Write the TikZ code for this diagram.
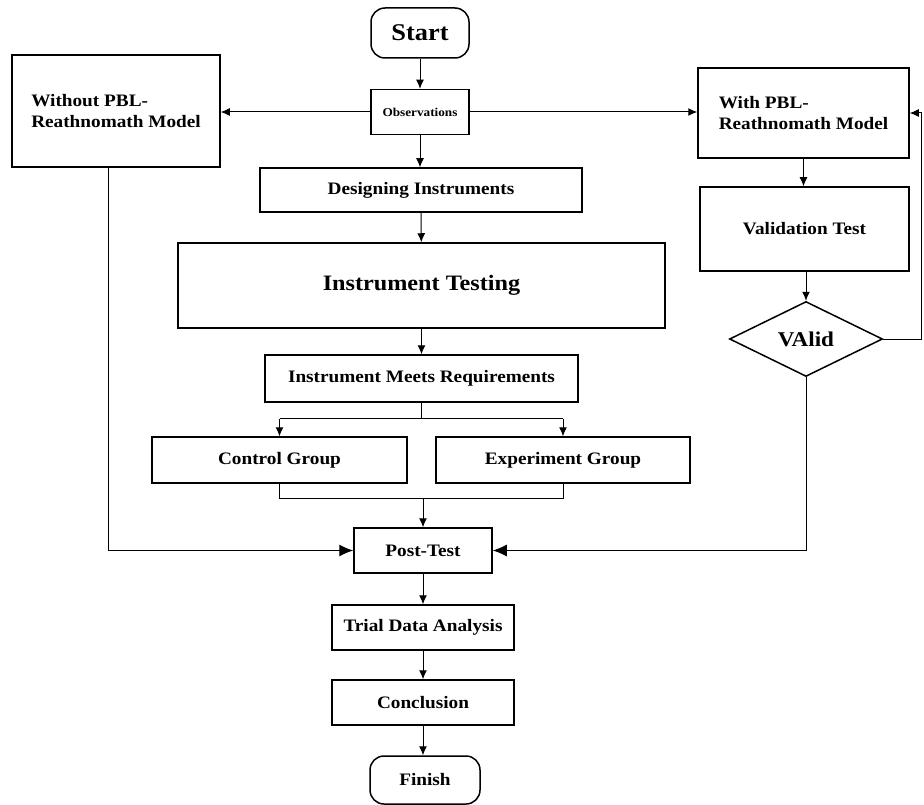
\documentclass[tikz,border=0pt]{standalone}
\usepackage{fontspec}
\setmainfont{Liberation Serif}[FakeStretch=1.1]
\usetikzlibrary{shapes.geometric,arrows.meta}
\begin{document}
\begin{tikzpicture}[x=1pt,y=-1pt,
  box/.style={draw, line width=1.5pt, rectangle, inner sep=0pt, align=center,
    font=\bfseries\fontsize{17.5}{21}\selectfont},
  term/.style={box, rounded corners=14pt},
  conn/.style={line width=1pt, -{Latex[length=9pt,width=8pt]}},
  bigconn/.style={line width=1pt, -{Latex[length=14pt,width=12pt]}},
  plain/.style={line width=1pt}]
\useasboundingbox (0,0) rectangle (924,805);
% nodes
\node[term, minimum width=98, minimum height=50, font=\bfseries\fontsize{24}{26}\selectfont] (start) at (420,33) {Start};
\node[box, minimum width=98, minimum height=45, font=\bfseries\fontsize{12}{14}\selectfont] (obs) at (420,112) {Observations};
\node[box, minimum width=208, minimum height=112, align=left] (without) at (116,111) {Without PBL-\\Reathnomath Model};
\node[box, minimum width=211, minimum height=90, align=left] (with) at (803.5,113) {With PBL-\\Reathnomath Model};
\node[box, minimum width=322, minimum height=44] (design) at (421,190) {Designing Instruments};
\node[box, minimum width=487, minimum height=85, font=\bfseries\fontsize{22}{26}\selectfont] (test) at (421.5,285.5) {Instrument Testing};
\node[box, minimum width=313, minimum height=47] (meets) at (421.5,378.5) {Instrument Meets Requirements};
\node[box, minimum width=255, minimum height=46] (control) at (279.5,460) {Control Group};
\node[box, minimum width=254, minimum height=46] (exp) at (563,460) {Experiment Group};
\node[box, minimum width=138, minimum height=45] (post) at (423,550.5) {Post-Test};
\node[box, minimum width=182, minimum height=45] (trial) at (423,627.5) {Trial Data Analysis};
\node[box, minimum width=182, minimum height=45] (concl) at (423,702.5) {Conclusion};
\node[term, minimum width=110, minimum height=48] (finish) at (425,780) {Finish};
\node[box, minimum width=209, minimum height=84] (valid) at (804.5,229) {Validation Test};
\node[diamond, draw, line width=1.5pt, inner sep=0pt, minimum width=153, minimum height=75,
  font=\bfseries\fontsize{21}{24}\selectfont] (vd) at (806,339) {VAlid};
\coordinate (loop) at (921,339);
% connectors
\draw[conn] (start) -- (obs);
\draw[conn] (obs.west) -- (without.east |- obs.west);
\draw[conn] (obs.east) -- (with.west |- obs.east);
\draw[conn] (obs.south) -- (obs.south |- design.north);
\draw[conn] (design) -- (test);
\draw[conn] (test) -- (meets);
\draw[plain] (meets.south) -- ++(0,16) coordinate (split);
\draw[plain] (split -| control) -- (split -| exp);
\draw[conn] (split -| control) -- (control.north);
\draw[conn] (split -| exp) -- (exp.north);
\draw[plain] (control.south) -- ++(0,15) coordinate (merge) -- (merge -| exp) -- (exp.south);
\draw[conn] (merge -| post) -- (post.north);
\draw[bigconn] ([xshift=-8pt]without.south) |- (post.west);
\draw[conn] (with.south) -- (with.south |- valid.north);
\draw[conn] (vd.north |- valid.south) -- (vd.north);
\draw[bigconn] (vd.south) |- (post.east);
\draw[conn] (vd.east) -- (loop) |- (with.east);
\draw[conn] (post) -- (trial);
\draw[conn] (trial) -- (concl);
\draw[conn] (concl.south) -- (concl.south |- finish.north);
\end{tikzpicture}
\end{document}
